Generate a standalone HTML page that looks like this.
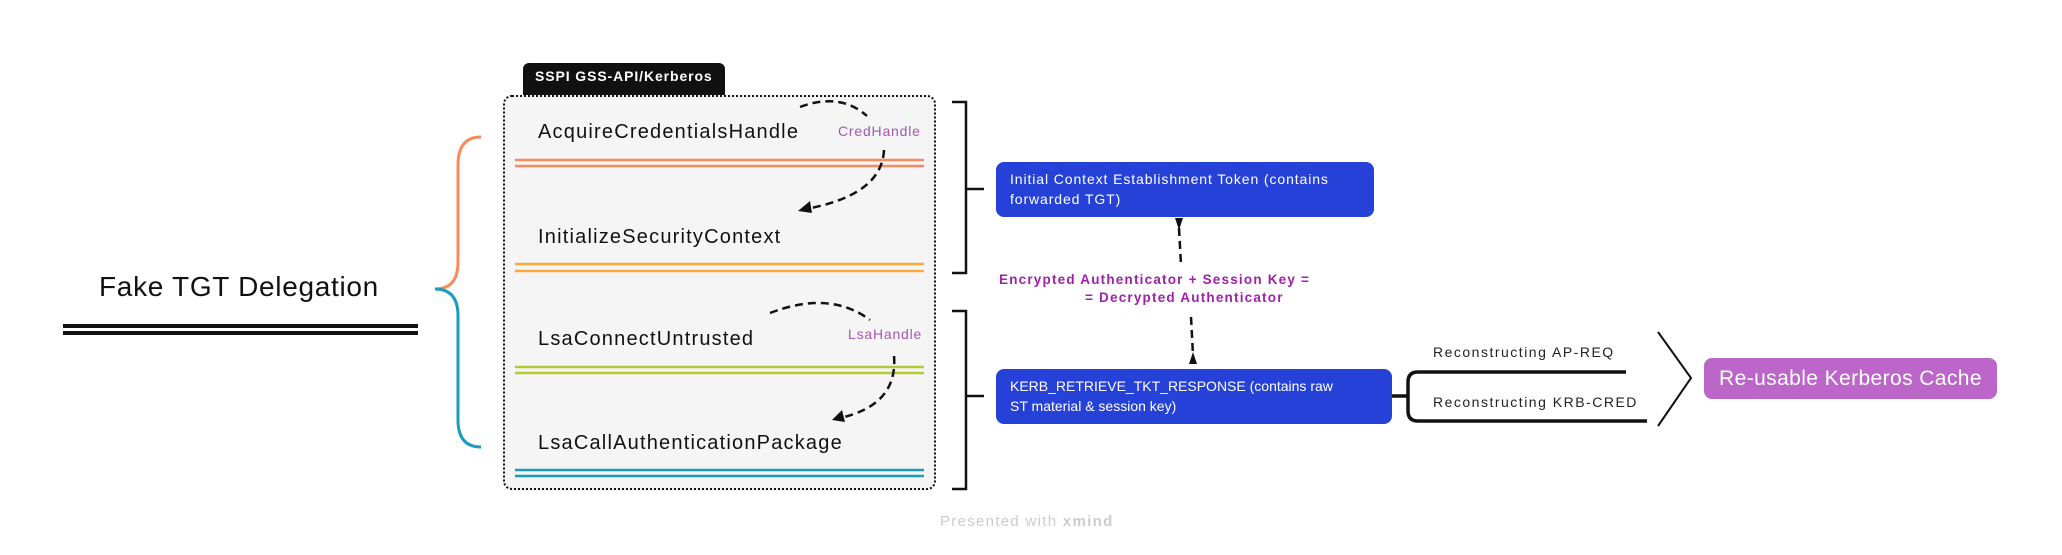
<!DOCTYPE html>
<html><head><meta charset="utf-8"><style>
body{margin:0;width:2062px;height:555px;background:#fff;position:relative;overflow:hidden;font-family:"Liberation Sans",sans-serif}
.a{position:absolute;white-space:nowrap}
.fn{font-size:20px;color:#111;left:538px;letter-spacing:1.2px}
.box{position:absolute;background:#2541d8;color:#fff;border-radius:8px;font-size:14px;line-height:20px;padding:0 0 0 14px;box-sizing:border-box}
</style></head><body>
<div class="a" style="left:523px;top:63px;width:202px;height:34px;background:#111;border-radius:6px 6px 0 0"></div>
<div class="a" style="left:535px;top:68px;color:#fff;font-size:14px;font-weight:bold;letter-spacing:0.9px">SSPI GSS-API/Kerberos</div>
<div class="a" style="left:503px;top:95px;width:433px;height:395px;box-sizing:border-box;background:#f5f5f5;border:2.5px dotted #111;border-radius:9px"></div>
<svg class="a" style="left:0;top:0" width="2062" height="555">
<g stroke-width="2.5">
<line x1="515" y1="160" x2="924" y2="160" stroke="#f98a5e"/><line x1="515" y1="166" x2="924" y2="166" stroke="#f98a5e"/>
<line x1="515" y1="264" x2="924" y2="264" stroke="#fba93c"/><line x1="515" y1="271" x2="924" y2="271" stroke="#fba93c"/>
<line x1="515" y1="367" x2="924" y2="367" stroke="#b5ca33"/><line x1="515" y1="373" x2="924" y2="373" stroke="#b5ca33"/>
<line x1="515" y1="470" x2="924" y2="470" stroke="#1a9cc0"/><line x1="515" y1="476" x2="924" y2="476" stroke="#1a9cc0"/>
</g>
<g fill="none" stroke="#111" stroke-width="2.5" stroke-dasharray="8,5">
<path d="M800 107 Q840 92 867 116"/>
<path d="M884 150 Q882 195 806 209"/>
<path d="M770 313 Q830 290 870 320"/>
<path d="M894 356 Q898 405 840 418"/>
<path d="M1179 228 L1181 265"/>
<path d="M1191 317 L1193 355"/>
</g>
<path d="M798 211 L810 201 L812 213 Z" fill="#111"/>
<path d="M832 420 L842 410 L845 422 Z" fill="#111"/>
<path d="M1175 218 L1183 218 L1179 230 Z" fill="#111"/>
<path d="M1189 364 L1197 364 L1193 352 Z" fill="#111"/>
<g stroke="#111" stroke-width="4"><line x1="63" y1="326" x2="418" y2="326"/><line x1="63" y1="333" x2="418" y2="333"/></g>
<path d="M481 137 Q458 137 458 165 L458 262 Q458 289 435 289" fill="none" stroke="#f98a5e" stroke-width="3"/>
<path d="M435 289 Q458 289 458 316 L458 420 Q458 447 481 447" fill="none" stroke="#1a9cc0" stroke-width="3"/>
<g fill="none" stroke="#111" stroke-width="2.5">
<path d="M952 102 L966 102 L966 273 L952 273 M966 189 L984 189"/>
<path d="M952 311 L966 311 L966 489 L952 489 M966 396 L984 396"/>
<path d="M1658 332 L1691 378 L1658 426" stroke-width="2"/>
</g>
<path d="M1392 396 L1408 396 M1626 372 L1418 372 Q1408 372 1408 382 L1408 411 Q1408 421 1418 421 L1647 421" fill="none" stroke="#111" stroke-width="3.5"/>
</svg>
<div class="a fn" style="top:121px">AcquireCredentialsHandle</div>
<div class="a fn" style="top:226px">InitializeSecurityContext</div>
<div class="a fn" style="top:328px">LsaConnectUntrusted</div>
<div class="a fn" style="top:432px">LsaCallAuthenticationPackage</div>
<div class="a" style="left:838px;top:123px;font-size:14px;color:#a05ab0;letter-spacing:0.8px">CredHandle</div>
<div class="a" style="left:848px;top:326px;font-size:14px;color:#a05ab0;letter-spacing:0.8px">LsaHandle</div>
<div class="a" style="left:99px;top:271px;font-size:28px;color:#111;letter-spacing:0.7px">Fake TGT Delegation</div>
<div class="box" style="left:996px;top:162px;width:378px;height:55px;padding-top:7px;letter-spacing:0.9px">Initial Context Establishment Token (contains<br>forwarded TGT)</div>
<div class="box" style="left:996px;top:369px;width:396px;height:55px;padding-top:7px">KERB_RETRIEVE_TKT_RESPONSE (contains raw<br>ST material &amp; session key)</div>
<div class="a" style="left:999px;top:271px;font-size:13.5px;font-weight:bold;color:#a020a8;line-height:18px;letter-spacing:1.2px">Encrypted Authenticator + Session Key =<br><span style="padding-left:86px">= Decrypted Authenticator</span></div>
<div class="a" style="left:1433px;top:344px;font-size:14px;color:#222;letter-spacing:1.5px">Reconstructing AP-REQ</div>
<div class="a" style="left:1433px;top:394px;font-size:14px;color:#222;letter-spacing:1.5px">Reconstructing KRB-CRED</div>
<div class="a" style="left:1704px;top:358px;width:293px;height:41px;background:#bb66c8;border-radius:8px;color:#fff;font-size:21px;line-height:41px;text-align:center;letter-spacing:0.4px">Re-usable Kerberos Cache</div>
<div class="a" style="left:940px;top:513px;font-size:15px;color:#ccc;letter-spacing:1.3px">Presented with <b>xmind</b></div>
</body></html>
